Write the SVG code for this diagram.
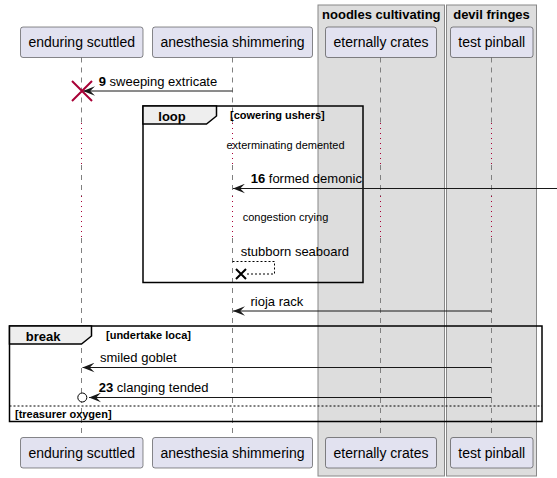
<svg xmlns="http://www.w3.org/2000/svg" width="557" height="478" viewBox="0 0 557 478">
<defs>
<style>
.pbox{fill:#E2E2F0;stroke:#181818;stroke-width:0.5}
.ptext{font-family:"Liberation Sans",Arial,sans-serif;font-size:14px;fill:#000;text-anchor:middle}
.life{stroke:#808080;stroke-width:1;stroke-dasharray:5,5;fill:none}
.delay{stroke:#A80036;stroke-width:1;stroke-dasharray:1,4;fill:none}
.grp{fill:#DDDDDD;stroke:#888888;stroke-width:1}
.gtitle{font-family:"Liberation Sans",Arial,sans-serif;font-weight:bold;font-size:13px;text-anchor:middle;fill:#000}
.msg{stroke:#181818;stroke-width:1;fill:none;marker-end:url(#ah)}
.mtext{font-family:"Liberation Sans",Arial,sans-serif;font-size:13px;fill:#000}
.b{font-weight:bold}
.dtext{font-family:"Liberation Sans",Arial,sans-serif;font-size:11px;fill:#000;text-anchor:middle}
.frame{fill:none;stroke:#000;stroke-width:1.5}
.tab{fill:#EEEEEE;stroke:#000;stroke-width:1.5}
.ftitle{font-family:"Liberation Sans",Arial,sans-serif;font-weight:bold;font-size:13px;fill:#000}
.fcond{font-family:"Liberation Sans",Arial,sans-serif;font-weight:bold;font-size:11px;fill:#000}
.sep{stroke:#000;stroke-width:1;stroke-dasharray:2,2}
</style>
<marker id="ah" markerUnits="userSpaceOnUse" markerWidth="12" markerHeight="10" viewBox="0 0 10 8" refX="10" refY="4" orient="auto">
<path d="M0,0 L10,4 L0,8 L4,4 Z" fill="#181818"/>
</marker>
</defs>

<g id="box-noodles">
<rect class="grp" x="318" y="5" width="126.5" height="471"/>
<text class="gtitle" x="381.3" y="18.5">noodles cultivating</text>
</g>
<g id="box-devil">
<rect class="grp" x="446.5" y="5" width="90" height="471"/>
<text class="gtitle" x="491.5" y="18.5">devil fringes</text>
</g>

<g id="lifelines">
<path class="life" d="M81.5,57.5V123 M81.5,165V196 M81.5,238V437.5"/>
<path class="delay" d="M81.5,123V165 M81.5,196V238"/>
<path class="life" d="M232.5,57.5V123 M232.5,165V196 M232.5,238V437.5"/>
<path class="delay" d="M232.5,123V165 M232.5,196V238"/>
<path class="life" d="M380.5,57.5V123 M380.5,165V196 M380.5,238V437.5"/>
<path class="delay" d="M380.5,123V165 M380.5,196V238"/>
<path class="life" d="M491.5,57.5V123 M491.5,165V196 M491.5,238V437.5"/>
<path class="delay" d="M491.5,123V165 M491.5,196V238"/>
</g>

<g id="enduring-scuttled">
<rect class="pbox" x="20.5" y="27" width="122.5" height="30.5" rx="2.5"/>
<text class="ptext" x="81.75" y="47">enduring scuttled</text>
<rect class="pbox" x="20.5" y="437.5" width="122.5" height="30.5" rx="2.5"/>
<text class="ptext" x="81.75" y="457.5">enduring scuttled</text>
</g>
<g id="anesthesia-shimmering">
<rect class="pbox" x="152.5" y="27" width="160" height="30.5" rx="2.5"/>
<text class="ptext" x="232.5" y="47">anesthesia shimmering</text>
<rect class="pbox" x="152.5" y="437.5" width="160" height="30.5" rx="2.5"/>
<text class="ptext" x="232.5" y="457.5">anesthesia shimmering</text>
</g>
<g id="eternally-crates">
<rect class="pbox" x="325.5" y="27" width="111" height="30.5" rx="2.5"/>
<text class="ptext" x="381" y="47">eternally crates</text>
<rect class="pbox" x="325.5" y="437.5" width="111" height="30.5" rx="2.5"/>
<text class="ptext" x="381" y="457.5">eternally crates</text>
</g>
<g id="test-pinball">
<rect class="pbox" x="450.5" y="27" width="82.5" height="30.5" rx="2.5"/>
<text class="ptext" x="491.75" y="47">test pinball</text>
<rect class="pbox" x="450.5" y="437.5" width="82.5" height="30.5" rx="2.5"/>
<text class="ptext" x="491.75" y="457.5">test pinball</text>
</g>

<g id="frame-loop">
<rect class="frame" x="143" y="106" width="220" height="176.5"/>
<path class="tab" d="M143,106 H216.5 V116 L206.5,124 H143 Z"/>
<text class="ftitle" x="158.3" y="121">loop</text>
<text class="fcond" x="230" y="119">[cowering ushers]</text>
</g>
<g id="frame-break">
<rect class="frame" x="9.5" y="326" width="532.5" height="95.5"/>
<path class="tab" d="M9.5,326 H91.5 V336 L81.5,344 H9.5 Z"/>
<text class="ftitle" x="25.7" y="340.5">break</text>
<text class="fcond" x="106" y="338.5">[undertake loca]</text>
<line class="sep" x1="9.5" y1="406" x2="542" y2="406"/>
<text class="fcond" x="15" y="417.5">[treasurer oxygen]</text>
</g>

<g id="delays">
<text class="dtext" x="285.5" y="149">exterminating demented</text>
<text class="dtext" x="285.5" y="221">congestion crying</text>
</g>

<g id="connectors">
<line class="msg" x1="232.5" y1="91" x2="83" y2="91"/>
<path d="M72,81 L92,101 M72,101 L92,81" stroke="#A80036" stroke-width="2" fill="none"/>
<text class="mtext" x="98.7" y="86"><tspan class="b">9</tspan> sweeping extricate</text>

<line class="msg" x1="557" y1="188.5" x2="233" y2="188.5"/>
<text class="mtext" x="250.7" y="183"><tspan class="b">16</tspan> formed demonic</text>

<path d="M232.5,261.5 H274.5 V274 H246" stroke="#000" stroke-width="1" stroke-dasharray="2,2" fill="none"/>
<path d="M236,269 L246,279 M236,279 L246,269" stroke="#000" stroke-width="2" fill="none"/>
<text class="mtext" x="240.7" y="256">stubborn seaboard</text>

<line class="msg" x1="491.5" y1="311" x2="233" y2="311"/>
<text class="mtext" x="250.5" y="306">rioja rack</text>

<line class="msg" x1="491.5" y1="367.5" x2="82.5" y2="367.5"/>
<text class="mtext" x="100" y="362">smiled goblet</text>

<line class="msg" x1="491.5" y1="397.5" x2="89" y2="397.5"/>
<circle cx="82.3" cy="397.5" r="4.5" fill="#fff" stroke="#000" stroke-width="1"/>
<text class="mtext" x="98.7" y="392"><tspan class="b">23</tspan> clanging tended</text>
</g>
</svg>
